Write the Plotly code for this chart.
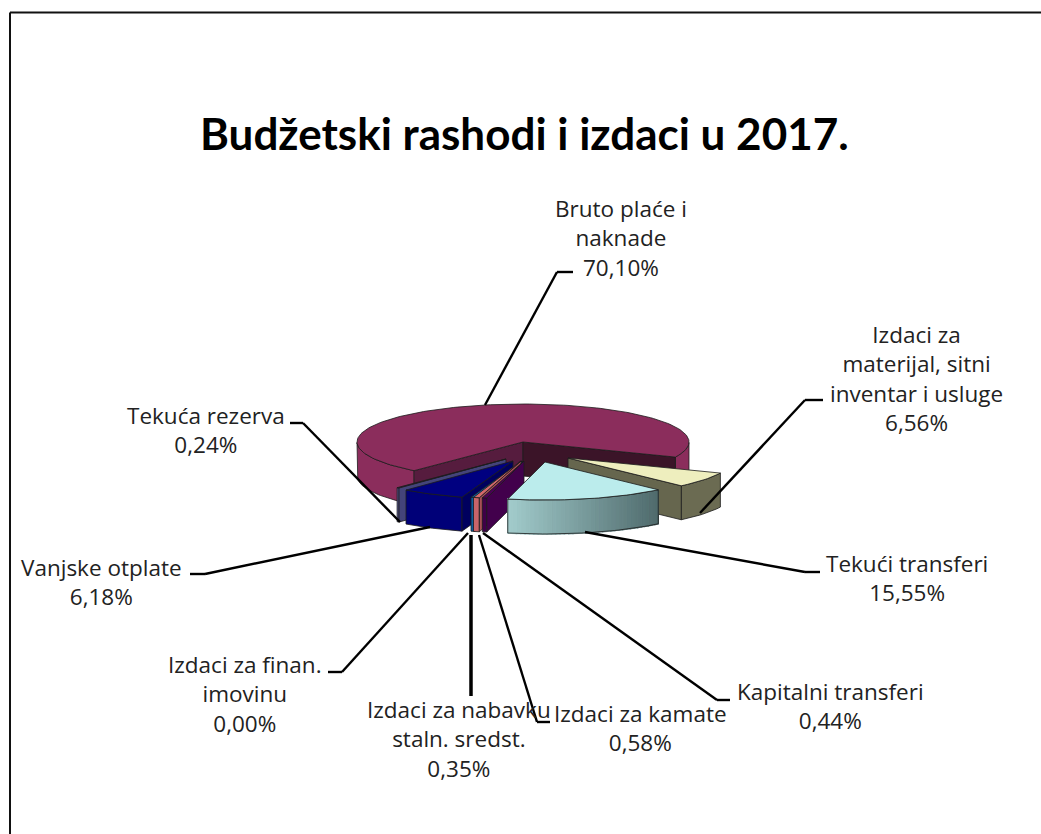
import math
import plotly.graph_objects as go

TITLE = "Budžetski rashodi i izdaci u 2017."
categories = ["Bruto plaće i<br>naknade", "Izdaci za<br>materijal, sitni<br>inventar i usluge",
              "Tekući transferi", "Kapitalni transferi", "Izdaci za kamate",
              "Izdaci za nabavku<br>staln. sredst.", "Izdaci za finan.<br>imovinu",
              "Vanjske otplate", "Tekuća rezerva"]
shares = [70.10, 6.56, 15.55, 0.44, 0.58, 0.35, 0.00, 6.18, 0.24]

# style: top colour, rim colour, start-cut colour, end-cut colour
top_colors = ["#8B2D5C", "#EEEEBE", "#BBECEC", "#4B0057", "#D4696B", "#0A66B0", "#0A8A8A", "#000080", "#5A5A9E"]
rim_colors = ["#8B2D5C", "#6B6B52", "#7FA5A6", "#3E0048", "#C8646A", "#0A5CA0", "#0A7070", "#000078", "#5A5A9A"]
start_cut = ["#561C3E", "#5A5A44", "#5A7A7A", "#42004C", "#A85055", "#084E88", "#085858", "#00005E", "#44447A"]
end_cut = ["#3B1428", "#66664E", "#5A7A7A", "#42004C", "#A85055", "#084E88", "#085858", "#00005E", "#44447A"]
# per-slice explosion on the page scale
explode = [(0, 0), (45, 16), (22, 20), (1, 19), (-2, 19), (-1, 19), (-1, 19), (-10, 19), (-17, 17)]
draw_order = [0, 1, 8, 7, 6, 5, 4, 3, 2]

CX, CY, RX, RY, DEPTH = 523, 442, 166, 38, 34
START = 221.0
EDGE = "#1c1c1c"

label_xy = [(621, 238), (916, 378), (907, 578), (830, 706), (640, 728), (459, 739), (245, 694), (101, 582), (206, 430)]
leaders = [
    [(485, 405), (557, 272), (573, 272)],
    [(700, 513), (805, 400), (823, 400)],
    [(585, 532), (805, 572), (820, 572)],
    [(483, 533), (717, 700), (730, 700)],
    [(479, 535), (537, 722), (550, 722)],
    [(471, 535), (471, 696)],
    [(468, 533), (342, 672), (328, 672)],
    [(430, 527), (205, 574), (190, 574)],
    [(400, 522), (303, 423), (290, 423)],
]

fig = go.Figure()


def poly(xs, ys, fill, line=EDGE, width=0.8):
    fig.add_trace(go.Scatter(
        x=list(xs) + [xs[0]], y=list(ys) + [ys[0]], mode="lines", fill="toself",
        fillcolor=fill, line=dict(color=line, width=width), hoverinfo="skip", showlegend=False))


def rim(a, ox, oy, dz=0):
    r = math.radians(a)
    return CX + ox + RX * math.sin(r), CY + oy - RY * math.cos(r) + dz


def lerp_hex(c1, c2, f):
    a = [int(c1[i:i + 2], 16) for i in (1, 3, 5)]
    b = [int(c2[i:i + 2], 16) for i in (1, 3, 5)]
    return "#" + "".join(f"{round(p + (q - p) * f):02x}" for p, q in zip(a, b))


def faces_viewer(a):
    return -math.cos(math.radians(a)) > 0


bounds = []
acc = START
for s in shares:
    bounds.append((acc, acc + s * 3.6))
    acc += s * 3.6

for i in draw_order:
    a1, a2 = bounds[i]
    if a2 - a1 <= 0:
        continue
    ox, oy = explode[i]
    ax, ay = CX + ox, CY + oy
    steps = max(2, int((a2 - a1) / 1.5))
    angs = [a1 + (a2 - a1) * k / steps for k in range(steps + 1)]

    # outer rim: contiguous runs facing the viewer
    runs, cur = [], []
    for a in angs:
        if faces_viewer(a):
            cur.append(a)
        elif cur:
            runs.append(cur)
            cur = []
    if cur:
        runs.append(cur)
    for run in runs:
        if len(run) < 2:
            continue
        top = [rim(a, ox, oy) for a in run]
        bot = [rim(a, ox, oy, DEPTH) for a in reversed(run)]
        if i == 2:  # gradient rim of the teal slice
            for a, b in zip(run[:-1], run[1:]):
                f = (rim(a, ox, oy)[0] - (CX + ox - 40)) / 155
                col = lerp_hex("#A5CFCF", "#4F6A6C", max(0, min(1, f)))
                p = [rim(a, ox, oy), rim(b, ox, oy), rim(b, ox, oy, DEPTH), rim(a, ox, oy, DEPTH)]
                poly([q[0] for q in p], [q[1] for q in p], col, line=col, width=1.5)
            pts = top + bot
            fig.add_trace(go.Scatter(x=[q[0] for q in pts] + [pts[0][0]], y=[q[1] for q in pts] + [pts[0][1]],
                                     mode="lines", line=dict(color=EDGE, width=0.8), hoverinfo="skip", showlegend=False))
        else:
            pts = top + bot
            poly([q[0] for q in pts], [q[1] for q in pts], rim_colors[i])

    # cut faces
    for ang, normal, col in ((a1, a1 - 90, start_cut[i]), (a2, a2 + 90, end_cut[i])):
        if faces_viewer(normal):
            rx_, ry_ = rim(ang, ox, oy)
            poly([ax, rx_, rx_, ax], [ay, ry_, ry_ + DEPTH, ay + DEPTH], col)

    # top
    pts = [(ax, ay)] + [rim(a, ox, oy) for a in angs]
    poly([q[0] for q in pts], [q[1] for q in pts], top_colors[i])

shapes = [dict(type="line", x0=10, x1=10, y0=12.5, y1=834, xref="x", yref="y", line=dict(color="#111", width=2)),
          dict(type="line", x0=10, x1=1041, y0=12.5, y1=12.5, xref="x", yref="y", line=dict(color="#111", width=2))]
for k, path in enumerate(leaders):
    w = 3.5 if k == 5 else 2.4
    for (x0, y0), (x1, y1) in zip(path[:-1], path[1:]):
        shapes.append(dict(type="line", x0=x0, y0=y0, x1=x1, y1=y1, xref="x", yref="y",
                           line=dict(color="#000", width=w), layer="above"))

annotations = [dict(x=524, y=133, xref="x", yref="y", text=f"<b>{TITLE}</b>", showarrow=False,
                    font=dict(family="Lato", size=44, color="#000"))]
for name, v, (x, y) in zip(categories, shares, label_xy):
    pct = f"{v:.2f}".replace(".", ",") + "%"
    annotations.append(dict(x=x, y=y, xref="x", yref="y", text=f"{name}<br>{pct}", showarrow=False,
                            align="center", font=dict(family="Open Sans", size=22.5, color="#222")))

fig.update_layout(width=1041, height=834, margin=dict(l=0, r=0, t=0, b=0), showlegend=False,
                  paper_bgcolor="white", plot_bgcolor="white", shapes=shapes, annotations=annotations,
                  xaxis=dict(range=[0, 1041], visible=False, fixedrange=True),
                  yaxis=dict(range=[834, 0], visible=False, fixedrange=True))
fig.write_html("out.html", post_script="document.body.style.margin='0';document.body.style.overflow='hidden';",
               config={"displayModeBar": False})
